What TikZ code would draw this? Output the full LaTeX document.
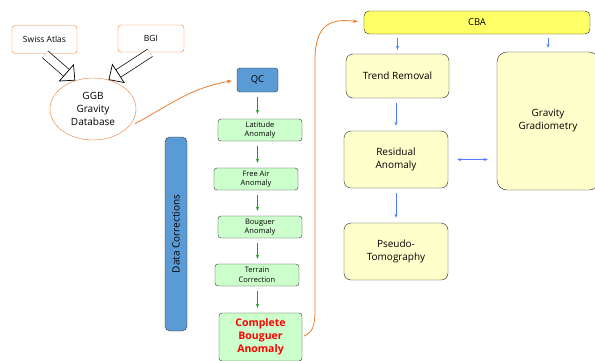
\documentclass[tikz,border=0pt]{standalone}
\usepackage{fontspec}
\setmainfont{Open Sans}
\usetikzlibrary{shapes,arrows,arrows.meta}
\definecolor{srcOrange}{HTML}{ED7D31}
\definecolor{qcBlue}{HTML}{5B9BD5}
\definecolor{corrGreen}{HTML}{CCFFCC}
\definecolor{cbaYellow}{HTML}{FFFF66}
\definecolor{procYellow}{HTML}{FFFFCC}
\definecolor{flowBlue}{HTML}{4F7FFF}
\definecolor{flowGreen}{HTML}{1E9E1E}
\tikzset{
  baseBox/.style = {align=center, inner sep=0pt, text centered, rounded corners=3pt},
  srcBox/.style = {baseBox, draw=srcOrange, fill=white, minimum width=65pt, minimum height=28pt,
    font=\fontsize{8.5}{10}\selectfont},
  dbNode/.style = {ellipse, draw=srcOrange, fill=white, align=center, inner sep=0pt,
    minimum width=86pt, minimum height=62pt, font=\fontsize{10}{13}\selectfont},
  qcBox/.style = {baseBox, draw=black!80, fill=qcBlue, minimum width=41pt, minimum height=24pt,
    font=\fontsize{9.5}{11}\selectfont},
  corrBox/.style = {baseBox, draw=black!80, fill=corrGreen, minimum width=84pt, minimum height=22pt,
    font=\fontsize{7.5}{9.5}\selectfont},
  procBox/.style = {baseBox, rounded corners=7pt, draw=black!85, fill=procYellow,
    font=\fontsize{10}{13}\selectfont},
  % pfeile
  hollowArrow/.style = {double=white, double distance=8pt, line width=0.7pt,
    -{Triangle[open, length=12pt, width=23pt]}},
  srcArrow/.style = {draw=srcOrange, line width=0.8pt, -{Stealth[length=5pt]}},
  greenArrow/.style = {draw=flowGreen, line width=0.9pt, -{Stealth[length=4pt]}},
  blueArrow/.style = {draw=flowBlue, line width=0.9pt, -{Stealth[length=4pt]}}
}

\begin{document}
\begin{tikzpicture}[x=1pt, y=-1pt]
\useasboundingbox (0,0) rectangle (595,360);

\node[srcBox] (swiss) at (44.5,39.5) {Swiss Atlas};
\node[srcBox, minimum width=66pt, minimum height=27pt] (bgi) at (151,38.5) {BGI};
\node[dbNode] (ggb) at (93,109) {GGB\\Gravity\\Database};

\node[qcBox] (qc) at (257.5,80) {QC};
\node[corrBox] (lat) at (260,130) {Latitude\\Anomaly};
\node[corrBox] (fair) at (256,179) {Free Air\\Anomaly};
\node[corrBox] (boug) at (260,227) {Bouguer\\Anomaly};
\node[corrBox] (terr) at (257,275) {Terrain\\Correction};
\node[corrBox, minimum width=83pt, minimum height=48pt, font=\fontsize{10.5}{13}\selectfont\bfseries,
  text=red] (cpl) at (260.5,337) {Complete\\Bouguer\\Anomaly};
\node[qcBox, rounded corners=5pt, rotate=90, minimum width=194pt, minimum height=22pt,
  font=\fontsize{10}{12}\selectfont] (datcor) at (176,234) {Data Corrections};

\node[baseBox, rounded corners=5pt, draw=black!85, fill=cbaYellow, minimum width=226pt,
  minimum height=23pt, font=\fontsize{9.5}{11}\selectfont] (cba) at (477,22.5) {CBA};
\node[procBox, minimum width=103pt, minimum height=44pt] (trend) at (397.5,76) {Trend Removal};
\node[procBox, minimum width=104pt, minimum height=57pt] (resid) at (396,159.5) {Residual\\Anomaly};
\node[procBox, minimum width=104pt, minimum height=57pt] (pseudo) at (396,251.5) {Pseudo-\\Tomography};
\node[procBox, rounded corners=10pt, minimum width=102pt, minimum height=138pt] (grad) at (548,121)
  {Gravity\\Gradiometry};

% quellen
\draw[hollowArrow, shorten <=1pt] (swiss.south) -- (ggb.122);
\draw[hollowArrow, shorten <=1pt] (bgi.south) -- (ggb.62);
\draw[srcArrow, shorten <=8pt, shorten >=5pt] (ggb.-28) .. controls (170,105) and (190,88) .. (qc.west);

% korrekturen
\draw[greenArrow, shorten <=5pt, shorten >=5pt] (qc.south) -- (qc.south |- lat.north);
\draw[greenArrow, shorten <=5pt, shorten >=5pt] (qc.south |- lat.south) -- (qc.south |- fair.north);
\draw[greenArrow, shorten <=5pt, shorten >=5pt] (qc.south |- fair.south) -- (qc.south |- boug.north);
\draw[greenArrow, shorten <=5pt, shorten >=5pt] (qc.south |- boug.south) -- (qc.south |- terr.north);
\draw[greenArrow, shorten <=5pt, shorten >=5pt] (qc.south |- terr.south) -- (qc.south |- cpl.north);

\draw[srcArrow, shorten <=2pt, shorten >=6pt] (cpl.east) .. controls (312,332) and (315,328) .. (315,310)
  -- (315,60) .. controls (315,25) and (330,18) .. (cba.west);

% auswertung
\draw[blueArrow, shorten <=4pt, shorten >=4pt] (trend.north |- cba.south) -- (trend.north);
\draw[blueArrow, shorten <=4pt, shorten >=4pt] (grad.north |- cba.south) -- (grad.north);
\draw[blueArrow, shorten <=5pt, shorten >=5pt] (trend.south -| resid.north) -- (resid.north);
\draw[blueArrow, shorten <=5pt, shorten >=5pt] (resid.south) -- (pseudo.north);
\draw[blueArrow, {Stealth[length=4pt]}-{Stealth[length=4pt]}, shorten <=9pt, shorten >=9pt]
  (resid.east) -- (resid.east -| grad.west);
\end{tikzpicture}
\end{document}
